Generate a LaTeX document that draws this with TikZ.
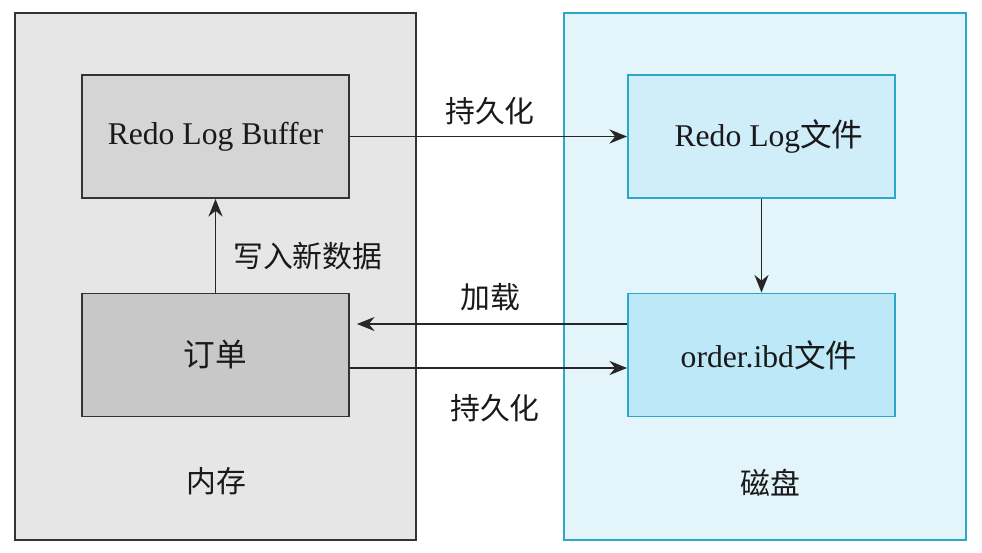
\documentclass[tikz,border=0pt]{standalone}
\usepackage{fontspec}
\setmainfont{Liberation Serif}
\newfontfamily\cjk{Noto Sans CJK SC}
\usepackage{tikz}
\usetikzlibrary{arrows.meta}
\definecolor{memfill}{HTML}{E6E6E6}
\definecolor{buffill}{HTML}{D5D5D5}
\definecolor{ordfill}{HTML}{C8C8C8}
\definecolor{diskfill}{HTML}{E3F4FB}
\definecolor{diskline}{HTML}{2AA7C9}
\definecolor{logfill}{HTML}{D0EEF9}
\definecolor{ibdfill}{HTML}{BDE8F8}

\begin{document}
\begin{tikzpicture}[x=0.02cm,y=-0.02cm,
  membox/.style={draw=black!80,line width=1.1pt,minimum width=5.34cm,minimum height=2.46cm,
    inner sep=0pt,font=\fontsize{18}{20}\selectfont,text=black!90},
  diskbox/.style={membox,draw=diskline},
  arr/.style={-{Stealth[length=10pt,width=8pt]},line width=1.1pt,black!85},
  lbl/.style={font=\cjk\fontsize{17}{20}\selectfont,text=black!90}]
\useasboundingbox (0,0) rectangle (982,553);
% memory side
\draw[fill=memfill,draw=black!80,line width=1pt] (15,13) rectangle (416,540);
\node[lbl] (mem) at (216,481) {内存};
% disk side
\draw[fill=diskfill,draw=diskline,line width=1pt] (564,13) rectangle (966,540);
\node[lbl] (disk) at (770,483) {磁盘};

\node[membox,fill=buffill] (buf) at (215.5,136.5) {Redo Log Buffer};
\node[membox,fill=ordfill] (ord) at (215.5,355) {\cjk 订单};
\node[diskbox,fill=logfill] (log) at (761.5,136.5) {\hspace{0.3cm}Redo Log{\cjk 文件}};
\node[diskbox,fill=ibdfill] (ibd) at (761.5,355) {\hspace{0.3cm}order.ibd{\cjk 文件}};

% connectors
\draw[arr] (buf.east) -- (log.west);
\node[lbl] (persist1) at (490,111) {持久化};
\draw[arr] (log.south) -- (ibd.north);
\draw[arr] (ord.north) -- (buf.south);
\node[lbl,anchor=west] (write) at (227,256) {写入新数据};
\draw[arr] ([yshift=0.62cm]ibd.west) -- ([yshift=0.62cm,xshift=4pt]ord.east);
\node[lbl] (load) at (490,297) {加载};
\draw[arr] ([yshift=-0.26cm]ord.east) -- ([yshift=-0.26cm]ibd.west);
\node[lbl] (persist2) at (495,408) {持久化};
\end{tikzpicture}
\end{document}
